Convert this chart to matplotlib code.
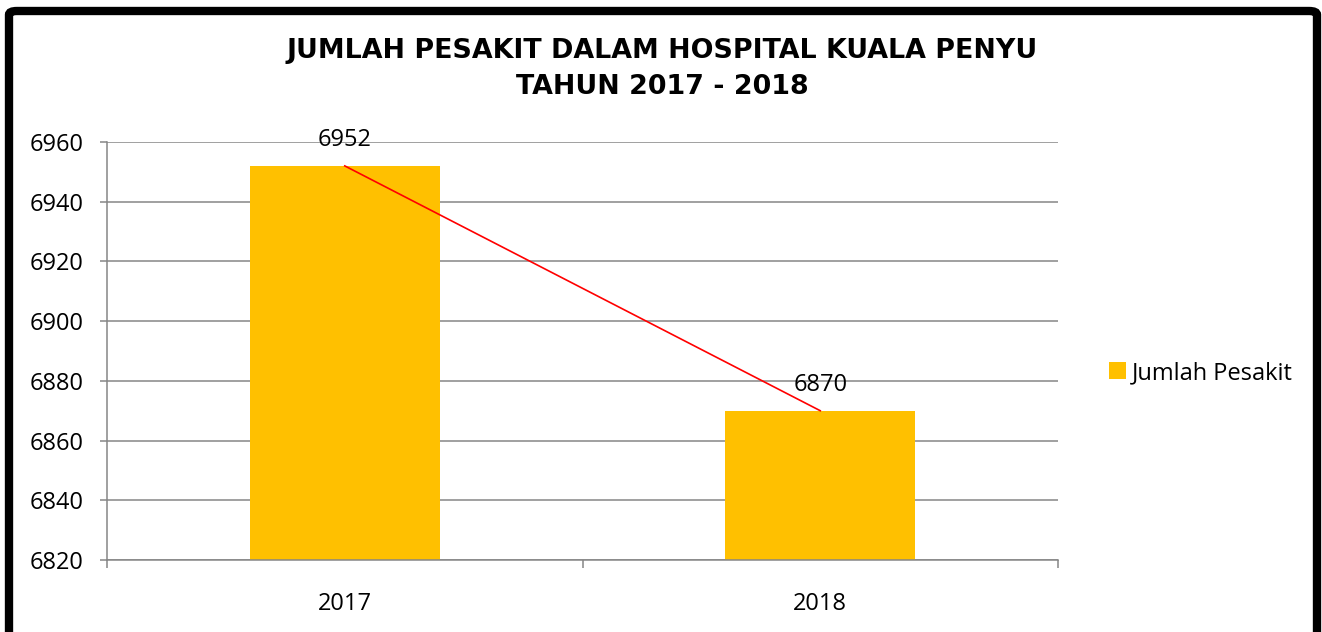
import matplotlib
matplotlib.use('Agg')
import matplotlib.pyplot as plt
from matplotlib.patches import FancyBboxPatch

# ===== DATA =====
years = ['2017', '2018']
patients = [6952, 6870]
series_name = 'Jumlah Pesakit'
title = 'JUMLAH PESAKIT DALAM HOSPITAL KUALA PENYU\nTAHUN 2017 - 2018'
y_ticks = [6820, 6840, 6860, 6880, 6900, 6920, 6940, 6960]

W, H = 1322, 632
fig = plt.figure(figsize=(W / 100, H / 100), dpi=100)
plt.rcParams['font.family'] = ['Open Sans', 'DejaVu Sans']
FS = 17

ax = fig.add_axes([107 / W, 1 - 560 / H, (1058 - 107) / W, (560 - 142) / H])

x = list(range(len(years)))
ax.bar(x, patients, width=0.4, color='#FFC000', label=series_name, zorder=2)
ax.plot(x, patients, color='red', lw=1.2, zorder=3)

for xi, v in zip(x, patients):
    ax.annotate(str(v), (xi, v), xytext=(0, 18.5), textcoords='offset points',
                ha='center', va='center', fontsize=FS, color='black', zorder=4)

ax.set_xlim(-0.5, len(years) - 0.5)
ax.set_ylim(y_ticks[0], y_ticks[-1])
ax.set_yticks(y_ticks)
ax.yaxis.grid(True, color='#868686', lw=1.1, zorder=0)
ax.set_axisbelow(True)

# category boundary ticks, labels in the middle
ax.set_xticks([i - 0.5 for i in range(len(years) + 1)])
ax.set_xticklabels([])
ax.set_xticks(x, minor=True)
ax.set_xticklabels(years, minor=True, fontsize=FS)
ax.tick_params(axis='x', which='major', length=6, color='#868686', width=1.1)
ax.tick_params(axis='x', which='minor', length=0, pad=23)
ax.tick_params(axis='y', length=5, color='#868686', width=1.1, labelsize=FS, pad=12)

for s in ['top', 'right']:
    ax.spines[s].set_visible(False)
for s in ['left', 'bottom']:
    ax.spines[s].set_color('#868686')
    ax.spines[s].set_linewidth(1.1)

fig.text(662 / W, 1 - 69 / H, title, ha='center', va='center', fontsize=19.4,
         fontweight='bold', family='DejaVu Sans', linespacing=1.5)

leg = fig.legend(loc='center left', bbox_to_anchor=(1100 / W, 1 - 373 / H),
                 frameon=False, fontsize=FS, handlelength=0.7, handleheight=0.7,
                 handletextpad=0.25, borderaxespad=0)

# black frame round the chart
frame = FancyBboxPatch((9 / W, -20 / H), (1317 - 9) / W, (H - 11 + 20) / H,
                       boxstyle='round,pad=0,rounding_size=0.006',
                       transform=fig.transFigure, fill=False, ec='black',
                       lw=6, clip_on=False)
fig.patches.append(frame)

fig.savefig('out.png', dpi=100)
